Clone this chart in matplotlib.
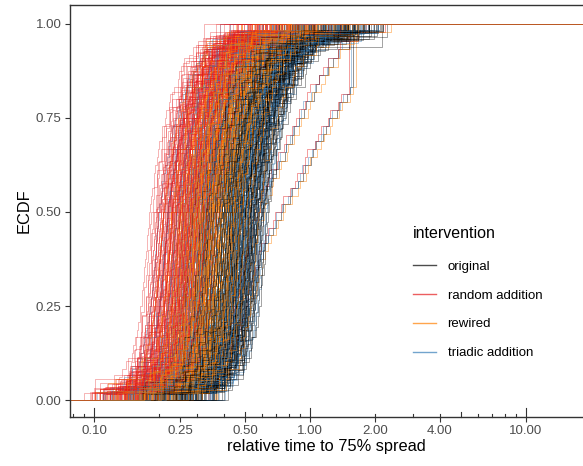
import numpy as np
import matplotlib
matplotlib.use("Agg")
import matplotlib.pyplot as plt
from matplotlib.lines import Line2D

plt.rcParams['font.family'] = ['Liberation Sans', 'DejaVu Sans']

# intervention groups and colours
groups = ["original", "random addition", "rewired", "triadic addition"]
colors = ["#000000", "#E41A1C", "#FF7F00", "#377EB8"]
line_alpha = [0.42, 0.38, 0.5, 0.42]
draw_order = [0, 3, 1, 2]

# median relative time (ECDF = 0.5) of each curve
med_original = [0.30, 0.32, 0.34, 0.35, 0.36, 0.37, 0.38, 0.38, 0.39, 0.40, 0.40, 0.41,
                0.42, 0.42, 0.43, 0.44, 0.44, 0.45, 0.45, 0.46, 0.47, 0.47, 0.48, 0.48,
                0.49, 0.50, 0.50, 0.51, 0.52, 0.52, 0.53, 0.54, 0.55, 0.55, 0.56, 0.57,
                0.58, 0.60, 0.61, 0.33, 0.41, 0.46, 0.50, 0.43, 0.53]
med_random = [0.19, 0.195, 0.20, 0.205, 0.21, 0.21, 0.215, 0.22, 0.22, 0.225, 0.23, 0.23,
              0.235, 0.24, 0.24, 0.245, 0.25, 0.25, 0.255, 0.26, 0.26, 0.265, 0.27, 0.27,
              0.275, 0.28, 0.28, 0.285, 0.29, 0.295, 0.30, 0.30, 0.31, 0.315, 0.32, 0.33,
              0.34, 0.35, 0.36, 0.25, 0.23, 0.27, 0.22, 0.29, 0.26]
med_rewired = [0.22, 0.24, 0.25, 0.26, 0.27, 0.28, 0.28, 0.29, 0.29, 0.30, 0.30, 0.31,
               0.31, 0.32, 0.32, 0.33, 0.33, 0.34, 0.34, 0.35, 0.35, 0.36, 0.36, 0.37,
               0.37, 0.38, 0.38, 0.39, 0.40, 0.40, 0.41, 0.42, 0.43, 0.44, 0.45, 0.46,
               0.48, 0.50, 0.55, 0.30, 0.34, 0.37, 0.33, 0.39, 0.42]
med_triadic = [0.21, 0.23, 0.25, 0.26, 0.27, 0.28, 0.29, 0.30, 0.31, 0.32, 0.33, 0.34,
               0.34, 0.35, 0.36, 0.37, 0.38, 0.38, 0.39, 0.40, 0.41, 0.42, 0.43, 0.44,
               0.45, 0.46, 0.47, 0.48, 0.49, 0.50, 0.51, 0.52, 0.54, 0.55, 0.57, 0.59,
               0.60, 0.29, 0.33, 0.36, 0.40, 0.44, 0.47, 0.31, 0.38]
medians = [med_original, med_random, med_rewired, med_triadic]

# replicate runs per network shift the median a little
rep_factor = [1.0, 0.95, 1.05]

# upper-tail stretch of each group's curves
tail_original = [1.3, 1.5, 1.4, 1.6, 1.3, 1.5, 1.2, 1.4]
tail_random = [1.1, 1.2, 1.3, 1.15, 1.4, 1.2, 1.5, 1.25]
tail_rewired = [1.1, 1.2, 1.3, 1.0, 1.25, 1.15, 1.4, 1.2]
tail_triadic = [1.2, 1.3, 1.1, 1.4, 1.25, 1.5, 1.2, 1.35]
tails = [tail_original, tail_random, tail_rewired, tail_triadic]

# number of nodes (steps) per network curve
n_nodes = [22, 35, 48, 30, 18, 55, 40, 26, 60, 33, 44, 15, 38, 52, 28, 46, 24, 36, 58, 31,
           42, 20, 50, 34, 27, 45, 39, 16, 53, 29, 47, 37, 23, 57, 32, 41, 19, 49, 25, 43,
           54, 30, 36, 21, 46]

# quantile profile of one curve (log10 offset from its median)
prof_p_lo = [0.0, 0.03, 0.1, 0.2, 0.3, 0.4, 0.5]
prof_off_lo = [-0.40, -0.20, -0.10, -0.055, -0.032, -0.015, 0.0]
prof_p_hi = [0.5, 0.6, 0.7, 0.8, 0.9, 0.95, 0.98, 1.0]
prof_off_hi = [0.0, 0.02, 0.045, 0.08, 0.14, 0.2, 0.28, 0.44]
jitter = [0.3, -0.25, 0.1, 0.4, -0.35, 0.0, 0.2, -0.1, 0.35, -0.3, 0.15, -0.4, 0.05,
          0.25, -0.2, 0.45, -0.05, -0.45, 0.3, 0.1, -0.15, 0.4, -0.3, 0.2, -0.25]

# two slow networks (anchors: cumulative share, relative time)
slow_a_p = [0.0, 0.15, 0.33, 0.41, 0.50, 0.56, 0.64, 0.74, 0.81, 0.83, 0.98, 1.0]
slow_a_t = [0.35, 0.47, 0.57, 0.62, 0.74, 0.86, 1.0, 1.24, 1.5, 1.58, 1.58, 2.5]
slow_b_p = [0.0, 0.2, 0.45, 0.58, 0.68, 0.80, 0.89, 0.95, 0.99, 1.0]
slow_b_t = [0.35, 0.45, 0.56, 0.66, 0.8, 1.0, 1.24, 1.5, 2.0, 2.6]
slow_shift = [1.0, 0.96, 1.03, 0.98]
slow_n = [48, 44]

xlim = (0.0774, 18.4)


def quantile_profile(p, med, tail):
    lo = np.interp(p, prof_p_lo, prof_off_lo) * 0.9
    hi = np.interp(p, prof_p_hi, prof_off_hi) * tail
    off = np.where(p < 0.5, lo, hi)
    return med * 10 ** off


def positions(n, k):
    i = np.arange(n)
    j = np.array([jitter[(k + m) % len(jitter)] for m in range(n)])
    return np.clip((i + 0.5 + j) / n, 0, 1)


def draw_ecdf(ax, x, color, alpha=0.4):
    x = np.sort(x)
    n = len(x)
    xs = np.concatenate([[xlim[0]], x, [xlim[1]]])
    ys = np.concatenate([[0], np.arange(1, n + 1) / n, [1]])
    ax.step(xs, ys, where='post', color=color, lw=0.6, alpha=alpha)


fig = plt.figure(figsize=(5.83, 4.66), dpi=100)
ax = fig.add_axes([70 / 583, 1 - 417 / 466, 513 / 583, 412 / 466])

ncurves = len(n_nodes)
for r, fac in enumerate(rep_factor):
    for k in range(ncurves):
        n = n_nodes[(k + 7 * r) % ncurves]
        for g in draw_order:
            med = medians[g][(k + 5 * r) % ncurves] * fac
            tail = tails[g][(k + r) % len(tails[g])]
            p = positions(n, k * 3 + g * 7 + r * 11)
            draw_ecdf(ax, quantile_profile(p, med, tail), colors[g], line_alpha[g])
        if r == 0 and k in (10, 30):
            s = 0 if k == 10 else 1
            ap, at = (slow_a_p, slow_a_t) if s == 0 else (slow_b_p, slow_b_t)
            for g in draw_order:
                p = positions(slow_n[s], k + g)
                t = np.exp(np.interp(p, ap, np.log(at))) * slow_shift[g]
                draw_ecdf(ax, t, colors[g], 0.5)

ax.set_xscale('log')
ax.set_xlim(*xlim)
ax.set_ylim(-0.045, 1.05)

xticks = [0.1, 0.25, 0.5, 1, 2, 4, 10]
ax.set_xticks(xticks)
ax.set_xticklabels(["0.10", "0.25", "0.50", "1.00", "2.00", "4.00", "10.00"])
ax.xaxis.set_minor_locator(matplotlib.ticker.NullLocator())
yticks = [0, 0.25, 0.5, 0.75, 1.0]
ax.set_yticks(yticks)
ax.set_yticklabels(["0.00", "0.25", "0.50", "0.75", "1.00"])
ax.tick_params(axis='both', length=3.5, width=0.8, color='#333333',
               labelcolor='#4D4D4D', labelsize=9.5, pad=2.5)

# log ticks along the bottom
trans = ax.get_xaxis_transform()
for d in [0.01, 0.1, 1, 10]:
    for m in range(1, 10):
        v = d * m
        if not (xlim[0] < v < xlim[1]):
            continue
        h = 0.022 if m == 1 else (0.012 if m == 5 else 0.0065)
        ax.plot([v, v], [0, h], transform=trans, color='#333333', lw=0.8,
                clip_on=False, zorder=5)

for s in ['left', 'bottom', 'top']:
    ax.spines[s].set_color('#333333')
    ax.spines[s].set_linewidth(1.0)
ax.spines['right'].set_visible(False)

ax.set_xlabel("relative time to 75% spread", fontsize=11.8, labelpad=1)
ax.set_ylabel("ECDF", fontsize=11.8, labelpad=3)

handles = [Line2D([], [], color=c, lw=1.0, alpha=0.7) for c in colors]
leg = fig.legend(handles, groups, title="intervention", loc='upper left',
                 bbox_to_anchor=(406 / 583, 1 - 219 / 466), frameon=False,
                 fontsize=9.5, title_fontsize=11.5, handlelength=1.75,
                 handletextpad=0.9, labelspacing=1.25, borderpad=0)
leg._legend_box.align = "left"
leg._legend_box.sep = 14.5

fig.savefig("out.png", dpi=100)
